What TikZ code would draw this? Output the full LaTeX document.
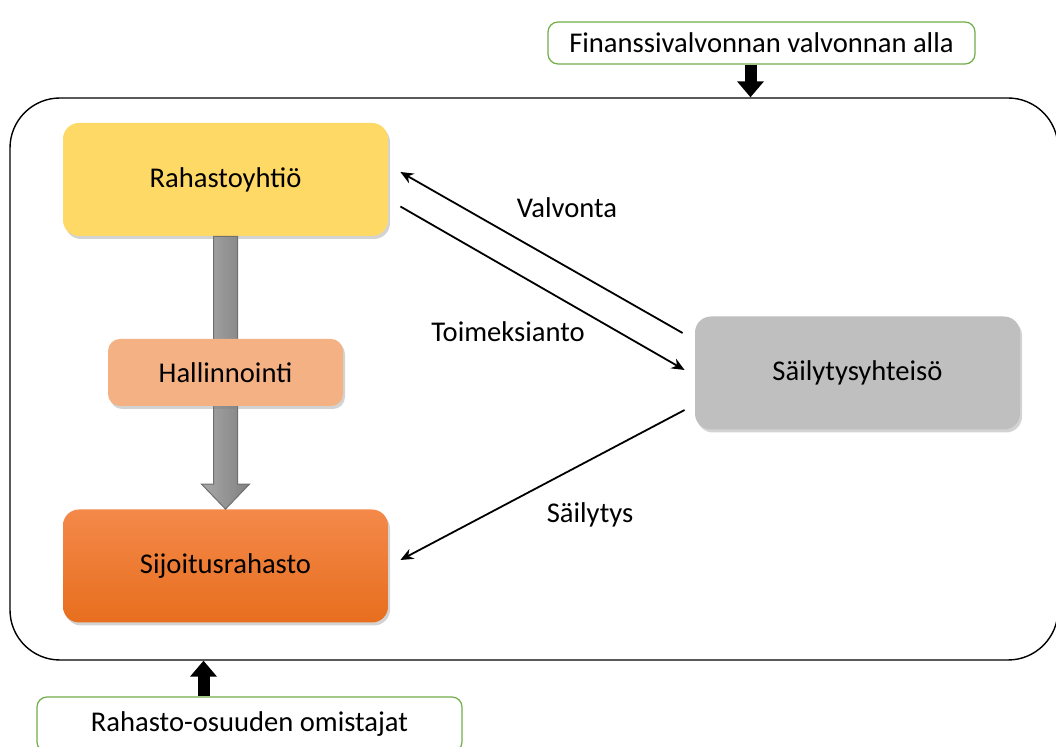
\documentclass[tikz,border=0pt]{standalone}
\usepackage{fontspec}
\setmainfont{Carlito}
\usetikzlibrary{arrows.meta,shadows}

\definecolor{fundyellow}{HTML}{FFD966}
\definecolor{mgmtorange}{HTML}{F4B183}
\definecolor{fundtop}{HTML}{F4894A}
\definecolor{fundbottom}{HTML}{E76E1E}
\definecolor{custgray}{HTML}{BFBFBF}
\definecolor{taggreen}{HTML}{70AD47}
\definecolor{shaftleft}{HTML}{A8A8A8}
\definecolor{shaftright}{HTML}{808080}
\definecolor{shaftedge}{HTML}{6F6F6F}

\tikzset{
    boxtext/.style={font=\fontsize{14.3}{17}\selectfont},
    actor/.style={boxtext, rounded corners=8pt, minimum width=162.5pt, minimum height=56.5pt,
        drop shadow={opacity=0.35, shadow xshift=1pt, shadow yshift=-1.5pt}},
    tagbox/.style={boxtext, draw=taggreen, line width=0.6pt, rounded corners=5pt, fill=white},
    flow/.style={line width=0.9pt, -{Stealth[length=6.5pt,width=5.5pt]}},
    bigarrow/.style={line width=6pt, -{Triangle[width=13pt,length=8pt]}},
    edgetext/.style={boxtext}
}

\begin{document}
\begin{tikzpicture}[x=0.5pt, y=-0.5pt]

    \useasboundingbox (0,0) rectangle (1056,747);

    % Outer frame (runs past the right edge)
    \node[draw, line width=0.7pt, rounded corners=25pt, minimum width=524pt, minimum height=281pt] (frame) at (534,379) {};

    % Supervisor and owners
    \node[tagbox, minimum width=213.5pt, minimum height=21pt] (fin) at (761.5,43) {Finanssivalvonnan valvonnan alla};
    \node[tagbox, minimum width=212.5pt, minimum height=27.5pt] (own) at (249.5,724.5) {Rahasto-osuuden omistajat};

    % Black arrows into the frame
    \coordinate (finarrow) at ([xshift=-5.5pt]fin.south);
    \draw[bigarrow] (finarrow) -- (finarrow |- frame.north);
    \coordinate (ownarrow) at ([xshift=-23pt]own.north);
    \draw[bigarrow] (ownarrow) -- (ownarrow |- frame.south);

    % Fund company and fund
    \node[actor, fill=fundyellow] (company) at (225.5,179.5) {Rahastoyhtiö};
    \node[actor, top color=fundtop, bottom color=fundbottom] (fund) at (225.5,566) {Sijoitusrahasto};

    % Grey block arrow from company to fund
    \draw[left color=shaftleft, right color=shaftright, draw=shaftedge, line width=0.5pt]
        ([xshift=-6pt]company.south) -- ([xshift=-6pt,yshift=12.5pt]fund.north)
        -- ([xshift=-12pt,yshift=12.5pt]fund.north) -- (fund.north)
        -- ([xshift=12pt,yshift=12.5pt]fund.north) -- ([xshift=6pt,yshift=12.5pt]fund.north)
        -- ([xshift=6pt]company.south) -- cycle;

    % Management box on the shaft
    \node[actor, fill=mgmtorange, minimum width=117.5pt, minimum height=33.5pt, rounded corners=6pt] (mgmt) at (225.5,372.5) {Hallinnointi};

    % Custodian
    \node[actor, fill=custgray] (custodian) at (857.5,373) {Säilytysyhteisö};

    % Thin arrows
    \draw[flow] ([xshift=-6pt,yshift=20pt]custodian.west) -- ([xshift=6pt,yshift=3.75pt]company.east);
    \draw[flow] ([xshift=6pt,yshift=-13.5pt]company.east) -- ([xshift=-5pt,yshift=1.5pt]custodian.west);
    \draw[flow] ([xshift=-5pt,yshift=-18.5pt]custodian.west) -- ([xshift=6pt,yshift=3pt]fund.east);

    % Arrow labels
    \node[edgetext] (supervision) at (567,208) {Valvonta};
    \node[edgetext] (mandate) at (508,332) {Toimeksianto};
    \node[edgetext] (custody) at (590,515) {Säilytys};

\end{tikzpicture}
\end{document}
